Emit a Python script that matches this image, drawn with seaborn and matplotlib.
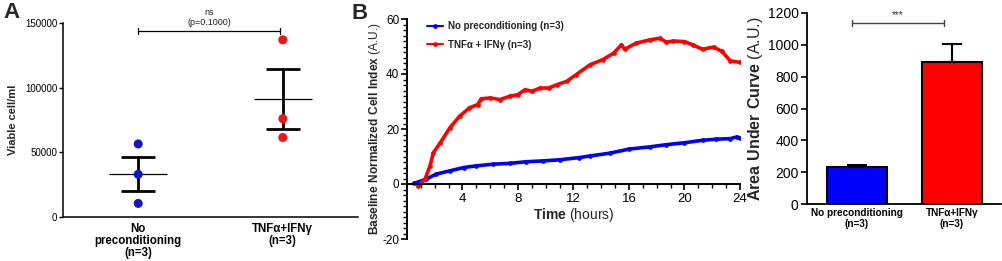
import numpy as np
import pandas as pd
import matplotlib
matplotlib.use("Agg")
import matplotlib.pyplot as plt
import seaborn as sns

# ---------------- data ----------------
groups_A = ["No\npreconditioning\n(n=3)", "TNFα+IFNγ\n(n=3)"]
viable_no = [56500, 33000, 10500]
viable_tnf = [137000, 76000, 61500]

series_B = ["No preconditioning (n=3)", "TNFα + IFNγ (n=3)"]
blue_t = [0.5, 1.4, 2.1, 3.1, 4.1, 5.0, 6.2, 7.4, 8.6, 9.8, 11.0, 12.4, 13.2, 14.6,
          16.0, 17.5, 18.7, 20.0, 21.3, 22.3, 23.3, 23.75, 24.0]
blue_v = [0.2, 1.8, 3.6, 4.8, 6.0, 6.6, 7.2, 7.5, 8.1, 8.4, 8.8, 9.6, 10.2, 11.2,
          12.7, 13.5, 14.3, 15.0, 15.9, 16.3, 16.5, 17.1, 16.7]
red_t = [0.8, 1.3, 1.66, 1.9, 2.4, 3.1, 3.8, 4.5, 5.1, 5.35, 6.0, 6.7, 7.4, 8.0, 8.5,
         9.0, 9.6, 10.2, 10.8, 11.5, 12.2, 13.2, 14.1, 14.9, 15.45, 15.7, 16.5, 17.5,
         18.2, 18.7, 19.2, 20.0, 20.6, 21.3, 22.1, 22.7, 23.3, 24.0]
red_v = [-0.8, 1.8, 6.6, 11.4, 15.0, 20.5, 24.7, 27.7, 28.9, 31.0, 31.3, 30.7, 31.9,
         32.5, 34.3, 33.7, 34.9, 34.9, 36.1, 37.3, 39.8, 43.4, 45.2, 47.6, 50.6, 49.0,
         51.2, 52.4, 53.0, 51.6, 52.0, 51.8, 50.6, 49.0, 49.8, 48.2, 44.8, 44.2]

groups_C = ["No preconditioning\n(n=3)", "TNFα+IFNγ\n(n=3)"]
auc_mean = [230, 890]
auc_sem = [17, 113]

# ---------------- style ----------------
sns.set_theme(style="ticks")
plt.rcParams["font.family"] = ["Liberation Sans", "DejaVu Sans"]
plt.rcParams["mathtext.fontset"] = "custom"
plt.rcParams["mathtext.rm"] = "Liberation Sans"
plt.rcParams["mathtext.bf"] = "Liberation Sans:bold"
plt.rcParams["axes.edgecolor"] = "black"
plt.rcParams["xtick.color"] = "black"
plt.rcParams["ytick.color"] = "black"
plt.rcParams["axes.unicode_minus"] = False

W, H = 1003, 261
fig = plt.figure(figsize=(W / 100, H / 100), dpi=100)

def box(l, t, r, b):
    return [l / W, 1 - b / H, (r - l) / W, (b - t) / H]

axA = fig.add_axes(box(63, 23, 358, 217))
axB = fig.add_axes(box(407, 19, 740, 239))
axC = fig.add_axes(box(807, 13, 1001, 204))

blueA, redA = "#1414c8", "#f01414"
blue, red = "#0000ff", "#ff0000"

# ---------------- Panel A ----------------
dfA = pd.DataFrame({
    "group": [groups_A[0]] * len(viable_no) + [groups_A[1]] * len(viable_tnf),
    "value": viable_no + viable_tnf,
})
sns.stripplot(data=dfA, x="group", y="value", hue="group", order=groups_A,
              palette=[blueA, redA], jitter=False, size=6.5, linewidth=0,
              ax=axA, legend=False, zorder=3)
for i, vals in enumerate([viable_no, viable_tnf]):
    m = np.mean(vals)
    s = np.std(vals, ddof=1) / np.sqrt(len(vals))
    axA.hlines(m, i - 0.2, i + 0.2, color="black", lw=0.9, zorder=2)
    axA.errorbar(i, m, yerr=s, fmt="none", ecolor="black", elinewidth=2,
                 capsize=12, capthick=2, zorder=2)
axA.set_xlim(-0.52, 1.52)
axA.set_ylim(0, 150000)
axA.set_yticks([0, 50000, 100000, 150000])
axA.set_yticklabels(["0", "50000", "100000", "150000"], fontsize=7)
axA.tick_params(axis="y", length=3, width=1, pad=1)
axA.tick_params(axis="x", length=0, pad=4)
for lab in axA.get_xticklabels():
    lab.set_fontweight("bold")
    lab.set_fontsize(8.3)
    lab.set_linespacing(1.05)
axA.set_xlabel("")
axA.set_ylabel("Viable cell/ml", fontsize=8, fontweight="bold")
axA.yaxis.set_label_coords((18 - 63) / 295, 0.5)
sns.despine(ax=axA)
for sp in axA.spines.values():
    sp.set_linewidth(1.1)
# significance bracket
yb = 143800
axA.plot([0, 0.98], [yb, yb], color="black", lw=0.9, clip_on=False)
axA.plot([0, 0], [yb - 2500, yb + 2500], color="black", lw=0.9, clip_on=False)
axA.plot([0.98, 0.98], [yb - 2500, yb + 2500], color="black", lw=0.9, clip_on=False)
axA.text(0.49, 146800, "ns\n(p=0.1000)", ha="center", va="bottom", fontsize=6.5,
         linespacing=1.1, color="#222222")

# ---------------- Panel B ----------------
dfB = pd.DataFrame({
    "t": blue_t + red_t,
    "v": blue_v + red_v,
    "series": [series_B[0]] * len(blue_t) + [series_B[1]] * len(red_t),
})
sns.lineplot(data=dfB, x="t", y="v", hue="series", hue_order=series_B,
             palette=[blue, red], estimator=None, sort=False, lw=2.6,
             marker="o", markersize=3.4, markeredgewidth=0, ax=axB)
axB.set_xlim(0, 24)
axB.set_ylim(-20, 60)
axB.spines["bottom"].set_position(("data", 0))
axB.set_xticks([4, 8, 12, 16, 20, 24])
axB.set_xticks(np.arange(1, 25, 1), minor=True)
axB.set_yticks([-20, 0, 20, 40, 60])
axB.set_yticks(np.arange(-20, 61, 2), minor=True)
axB.tick_params(axis="x", which="major", length=4.5, width=1.2, labelsize=9.5, pad=2)
axB.tick_params(axis="y", which="major", length=4.5, width=1.2, labelsize=8.5, pad=1)
axB.tick_params(axis="both", which="minor", length=3, width=1.0)
axB.set_xlabel(r"$\bf{Time}$ (hours)", fontsize=10, labelpad=1)
axB.set_ylabel(r"$\bf{Baseline\ Normalized\ Cell\ Index}$ (A.U.)", fontsize=8.6)
axB.yaxis.set_label_coords((383 - 407) / 333, 0.5)
sns.despine(ax=axB)
for sp in axB.spines.values():
    sp.set_linewidth(1.4)
leg = axB.legend(loc="upper left", bbox_to_anchor=(0.035, 1.03), frameon=False,
                 prop={"weight": "bold", "size": 7}, handlelength=1.6,
                 handletextpad=0.5, labelspacing=0.9)
for line in leg.get_lines():
    line.set_linewidth(1.5)

# ---------------- Panel C ----------------
sns.barplot(x=groups_C, y=auc_mean, hue=groups_C, palette=[blue, red],
            saturation=1, edgecolor="black", linewidth=1.5, width=0.63, ax=axC,
            legend=False, errorbar=None)
axC.errorbar([0, 1], auc_mean, yerr=[[0, 0], auc_sem], fmt="none", ecolor="black",
             elinewidth=1.5, capsize=7, capthick=1.5, zorder=1)
axC.set_xlim(-0.526, 1.516)
axC.set_ylim(0, 1200)
axC.set_yticks(np.arange(0, 1201, 200))
axC.tick_params(axis="y", length=4, width=1.2, labelsize=10, pad=2)
axC.tick_params(axis="x", length=0, pad=3)
for lab in axC.get_xticklabels():
    lab.set_fontweight("bold")
    lab.set_fontsize(7.2)
    lab.set_linespacing(1.05)
axC.set_ylabel(r"$\bf{Area\ Under\ Curve}$ (A.U.)", fontsize=11.5, labelpad=2)
sns.despine(ax=axC)
for sp in axC.spines.values():
    sp.set_linewidth(1.3)
yc = 1139
axC.plot([-0.056, 0.916], [yc, yc], color="#444444", lw=1.0, clip_on=False)
axC.plot([-0.056, -0.056], [yc - 18, yc + 18], color="#444444", lw=1.0, clip_on=False)
axC.plot([0.916, 0.916], [yc - 18, yc + 18], color="#444444", lw=1.0, clip_on=False)
axC.text(0.43, yc + 15, "***", ha="center", va="bottom", fontsize=7, color="#333333")

# ---------------- panel letters ----------------
fig.text(3 / W, 1 - 2 / H, "A", fontsize=16, fontweight="bold", va="top", ha="left")
fig.text(352 / W, 1 - 3 / H, "B", fontsize=16, fontweight="bold", va="top", ha="left")

fig.savefig("out.png", dpi=100)
